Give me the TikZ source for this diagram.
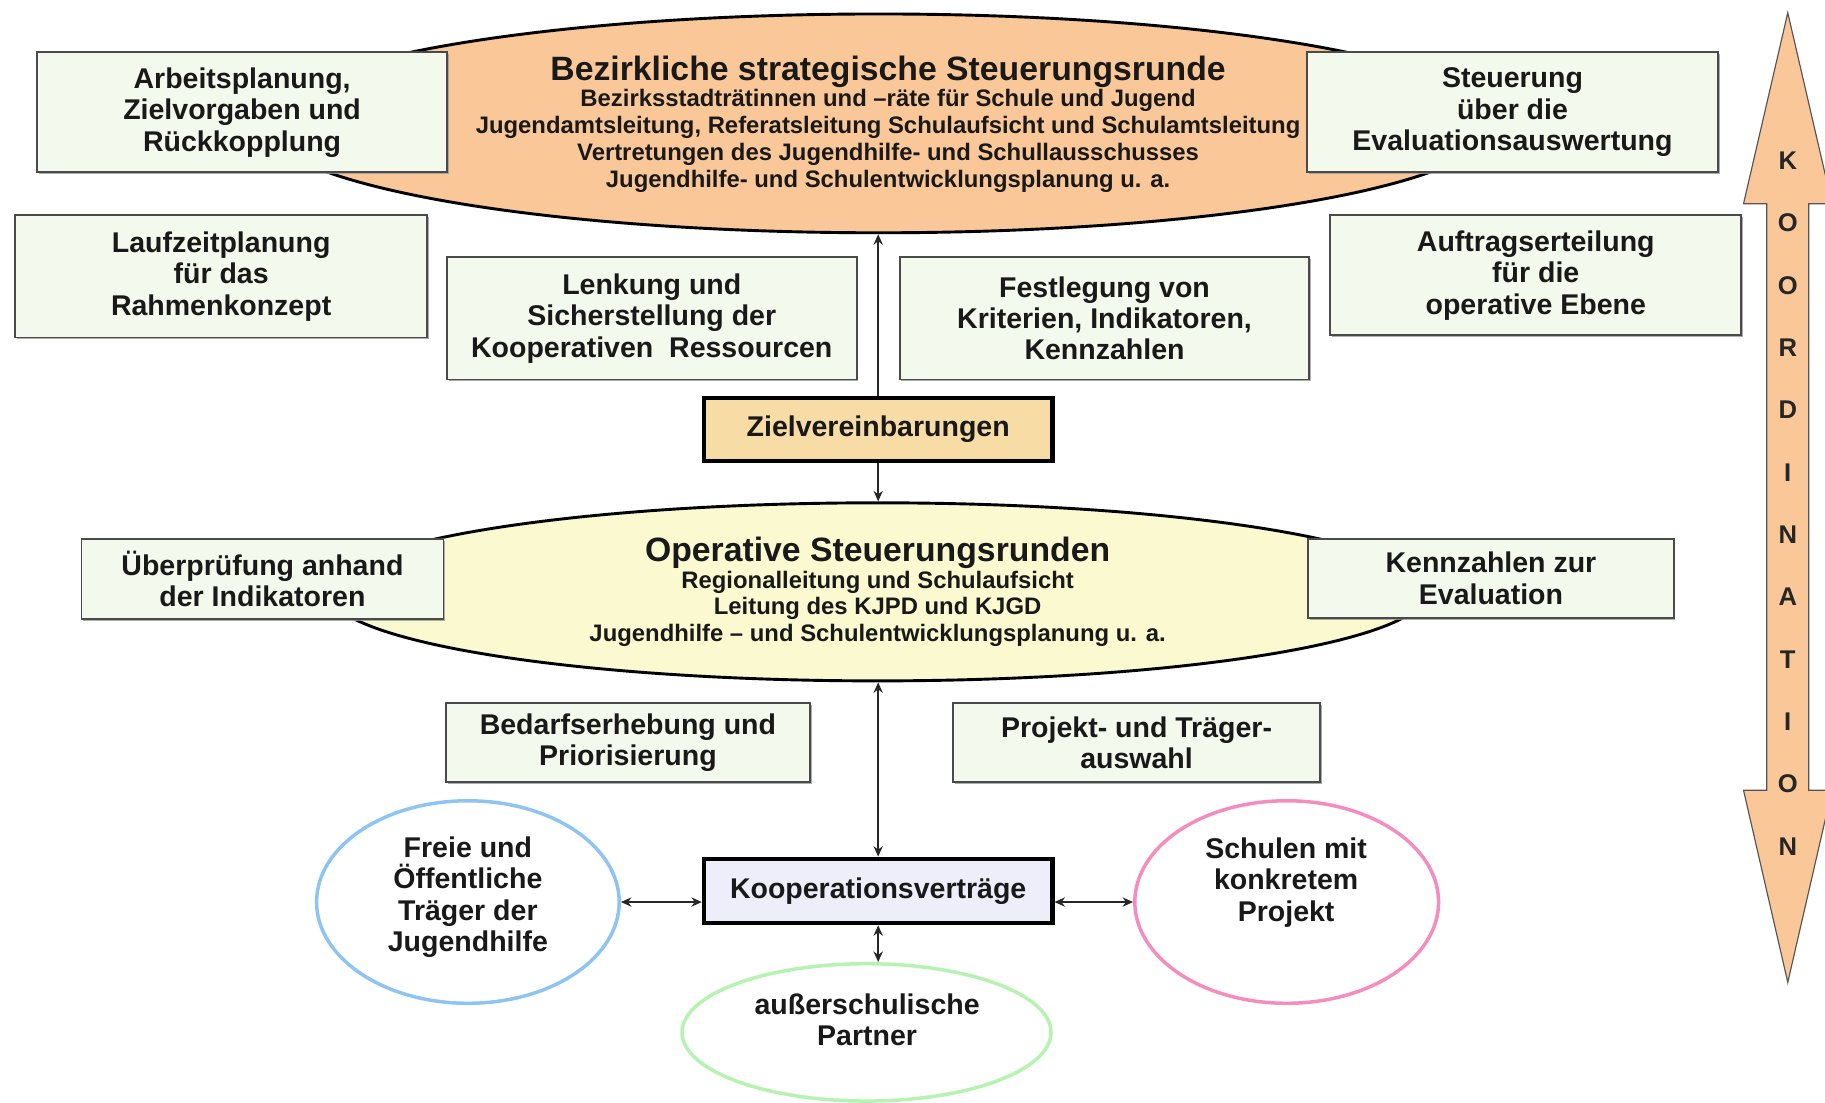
\documentclass[tikz,border=0pt]{standalone}
\usepackage{fontspec}
\setmainfont{Liberation Sans}
\usetikzlibrary{shapes.geometric,shadows,arrows.meta}

\definecolor{boxfill}{HTML}{F3F9EC}
\definecolor{boxline}{HTML}{4A4A4A}
\definecolor{peach}{HTML}{FAC898}
\definecolor{opyellow}{HTML}{FBF9CF}
\definecolor{zielfill}{HTML}{F8DCA6}
\definecolor{koopfill}{HTML}{EEEEFB}
\definecolor{blueline}{HTML}{8EC4F2}
\definecolor{pinkline}{HTML}{F48CBE}
\definecolor{greenline}{HTML}{B6F2B0}
\definecolor{arrowline}{HTML}{555555}

\begin{document}
\begin{tikzpicture}[x=1pt,y=-1pt,
  boxtext/.style={font=\bfseries\fontsize{24.5}{27}\selectfont, align=center, text=black!90},
  mybox/.style={draw=boxline, line width=1.6pt, fill=boxfill, inner sep=0pt, boxtext,
    drop shadow={shadow xshift=1.5pt, shadow yshift=-1.5pt, fill=black!40, opacity=0.8}},
  keybox/.style={draw=black, line width=4pt, inner sep=0pt, boxtext,
    drop shadow={shadow xshift=1.5pt, shadow yshift=-1.5pt, fill=black!40, opacity=0.8}},
  bigell/.style={ellipse, draw=black, line width=2.5pt, inner sep=0pt},
  ringell/.style={ellipse, line width=3pt, inner sep=0pt},
  titletext/.style={font=\bfseries\fontsize{29}{31}\selectfont, align=center, text=black!90},
  subtext/.style={font=\bfseries\fontsize{20.5}{23}\selectfont, align=center, text=black!90},
  letter/.style={font=\bfseries\fontsize{22}{24}\selectfont, text=black!85},
  conn/.style={draw=black!85, line width=1.3pt},
  tip/.style={-{Stealth[length=9pt,width=8pt]}},
  tips/.style={{Stealth[length=9pt,width=8pt]}-{Stealth[length=9pt,width=8pt]}}
]
\useasboundingbox (0,0) rectangle (1568,947);
\fill[white] (0,0) rectangle (1568,947);

% ellipses
\node[bigell, fill=peach, minimum width=1058pt, minimum height=188pt] (top) at (755,106) {};
\node[bigell, fill=opyellow, minimum width=944pt, minimum height=153pt] (oper) at (754,508.5) {};
\node[ringell, draw=blueline, minimum width=260pt, minimum height=174pt] (blue) at (402,775) {};
\node[ringell, draw=pinkline, minimum width=261pt, minimum height=174pt] (pink) at (1105.5,775) {};
\node[ringell, draw=greenline, minimum width=317pt, minimum height=118pt] (green) at (744.5,887) {};

% ellipse texts
\node[titletext] (toptitle) at (763,62) {Bezirkliche strategische Steuerungsrunde};
\node[subtext] (topsub) at (763,121) {Bezirksstadträtinnen und –räte für Schule und Jugend\\
Jugendamtsleitung, Referatsleitung Schulaufsicht und Schulamtsleitung\\
Vertretungen des Jugendhilfe- und Schullausschusses\\
Jugendhilfe- und Schulentwicklungsplanung u. a.};
\node[titletext] (optitle) at (754,475) {Operative Steuerungsrunden};
\node[subtext] (opsub) at (754,523) {Regionalleitung und Schulaufsicht\\
Leitung des KJPD und KJGD\\
Jugendhilfe – und Schulentwicklungsplanung u. a.};
\node[boxtext] (bluetext) at (402,771) {Freie und\\Öffentliche\\Träger der\\Jugendhilfe};
\node[boxtext] (pinktext) at (1105,758) {Schulen mit\\konkretem\\Projekt};
\node[boxtext] (greentext) at (745,876) {außerschulische\\Partner};

% boxes
\node[mybox, minimum width=352pt, minimum height=103pt] (arb) at (208,96.5) {Arbeitsplanung,\\Zielvorgaben und\\Rückkopplung};
\node[mybox, minimum width=353pt, minimum height=103pt] (steu) at (1299.5,96.5) {Steuerung\\über die\\Evaluationsauswertung};
\node[mybox, minimum width=354pt, minimum height=105pt] (lauf) at (190,237.5) {Laufzeitplanung\\für das\\Rahmenkonzept};
\node[mybox, minimum width=353pt, minimum height=103pt] (auftr) at (1319.5,236.5) {Auftragserteilung\\für die\\operative Ebene};
\node[mybox, minimum width=352pt, minimum height=105pt] (lenk) at (560,273.5) {Lenkung und\\Sicherstellung der\\Kooperativen\ \ Ressourcen};
\node[mybox, minimum width=352pt, minimum height=105pt] (fest) at (949,273.5) {Festlegung von\\Kriterien, Indikatoren,\\Kennzahlen};
\node[keybox, fill=zielfill, minimum width=299pt, minimum height=54pt] (ziel) at (754.5,369) {Zielvereinbarungen};
\node[mybox, minimum width=311pt, minimum height=69pt] (uber) at (225.5,497.5) {Überprüfung anhand\\der Indikatoren};
\node[mybox, minimum width=314pt, minimum height=68pt] (kenn) at (1281,497) {Kennzahlen zur\\Evaluation};
\node[mybox, minimum width=313pt, minimum height=68pt] (bedarf) at (539.5,638) {Bedarfserhebung und\\Priorisierung};
\node[mybox, minimum width=315pt, minimum height=68pt] (proj) at (976.5,638) {Projekt- und Träger-\\auswahl};
\node[keybox, fill=koopfill, minimum width=299pt, minimum height=55pt] (koop) at (754.5,765.5) {Kooperationsverträge};

% connectors
\draw[conn, tip] (ziel.north) -- (ziel.north |- top.south);
\draw[conn, tip] (ziel.south) -- (ziel.south |- oper.north);
\draw[conn, tips] (koop.north |- oper.south) -- (koop.north);
\draw[conn, tips] (blue.east) -- (koop.west |- blue.east);
\draw[conn, tips] (koop.east |- pink.west) -- (pink.west);
\draw[conn, tips] (koop.south) -- (koop.south |- green.north);

% Koordination arrow
\filldraw[fill=peach, draw=arrowline, line width=1pt, line join=miter]
  (1536,11) -- (1574,175) -- (1554,175) -- (1554,679) -- (1574,679) -- (1536,844)
  -- (1498,679) -- (1518,679) -- (1518,175) -- (1498,175) -- cycle;
\foreach \ch [count=\i from 0] in {K,O,O,R,D,I,N,A,T,I,O,N} {
  \node[letter] (koord\i) at (1536,138+53.55*\i) {\ch};
}
\end{tikzpicture}
\end{document}
